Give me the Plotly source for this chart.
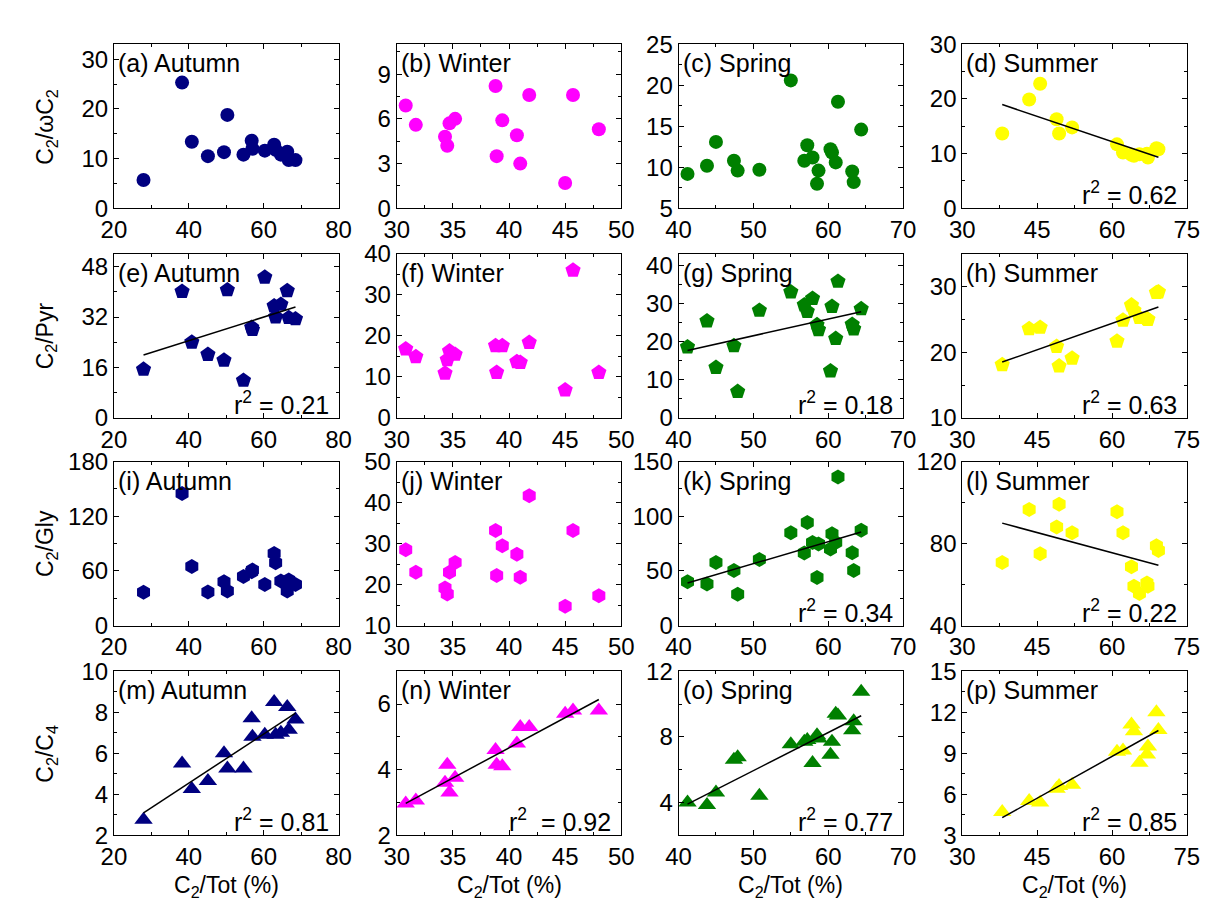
import numpy as np
import plotly.graph_objects as go

W, H = 1208, 913
OFF = 0  # page offset of the figure

# ---------------- data ----------------
seasons = ["Autumn", "Winter", "Spring", "Summer"]
colors = ["#000080", "#FF00FF", "#008000", "#FFFF00"]
row_names = ["C<sub>2</sub>/ωC<sub>2</sub>", "C<sub>2</sub>/Pyr", "C<sub>2</sub>/Gly", "C<sub>2</sub>/C<sub>4</sub>"]
symbols = ["circle", "pentagon", "hexagon", "triangle-up"]
panel_letters = list("abcdefghijklmnop")

autumn_x = [27.9, 38.2, 40.8, 45.1, 49.4, 50.3, 54.6, 56.8, 57.0, 60.3, 62.8, 63.2, 64.6, 66.3, 66.7, 68.5]
autumn_c2wc2 = [5.7, 25.3, 13.4, 10.5, 11.3, 18.8, 10.8, 13.6, 12.0, 11.6, 12.8, 11.8, 10.8, 11.4, 9.7, 9.7]
autumn_c2pyr = [15.4, 40.1, 24.0, 20.1, 18.3, 40.6, 11.9, 28.7, 28.0, 44.6, 35.5, 32.0, 36.0, 40.3, 31.8, 31.4]
autumn_c2gly = [36.5, 145, 65, 37, 48, 38, 54, 59, 61, 45, 79, 69, 49, 38, 50, 45]
autumn_c2c4 = [2.75, 5.5, 4.25, 4.65, 6.0, 5.25, 5.25, 7.7, 6.8, 6.9, 8.5, 6.9, 7.0, 8.25, 7.15, 7.65]

winter_x = [30.8, 31.7, 34.3, 34.5, 34.7, 35.2, 38.8, 38.9, 39.4, 40.7, 41.0, 41.8, 45.0, 45.7, 48.0]
winter_c2wc2 = [6.9, 5.6, 4.8, 4.2, 5.7, 6.0, 8.2, 3.5, 5.9, 4.9, 3.0, 7.6, 1.7, 7.6, 5.3]
winter_c2pyr = [16.8, 14.9, 10.9, 14.2, 16.3, 15.5, 17.6, 11.1, 17.6, 13.7, 13.5, 18.4, 6.8, 36.0, 11.1]
winter_c2gly = [28.5, 23.0, 19.2, 17.7, 23.0, 25.4, 33.2, 22.2, 29.5, 27.4, 21.8, 41.7, 14.7, 33.2, 17.3]
winter_c2c4 = [2.97, 3.06, 3.6, 4.15, 3.3, 3.75, 4.6, 4.15, 4.1, 4.8, 5.3, 5.3, 5.7, 5.8, 5.8]

spring_x = [41.2, 43.8, 45.0, 47.4, 47.9, 50.8, 55.0, 56.8, 57.2, 57.9, 58.5, 58.7, 60.3, 60.5, 61.0, 61.3, 63.2, 63.4, 64.4]
spring_c2wc2 = [9.2, 10.2, 13.1, 10.8, 9.6, 9.7, 20.6, 10.8, 12.7, 11.2, 8.0, 9.6, 12.2, 11.8, 10.6, 18.0, 9.5, 8.2, 14.6]
spring_c2pyr = [18.6, 25.4, 13.2, 18.9, 6.9, 28.2, 33.0, 29.6, 27.9, 31.3, 24.4, 23.1, 12.3, 29.2, 20.8, 35.8, 24.5, 23.3, 28.6]
spring_c2gly = [40, 38, 57.7, 50.3, 28.7, 60.4, 84.9, 66.3, 94.4, 76, 44, 74.6, 70, 84, 76, 136, 66.6, 50.3, 87.3]
spring_c2c4 = [4.0, 3.84, 4.6, 6.6, 6.75, 4.4, 7.55, 7.7, 7.8, 6.4, 8.1, 7.9, 6.9, 7.7, 9.4, 9.3, 8.4, 8.95, 10.75]

summer_x = [38.0, 43.4, 45.6, 48.9, 49.4, 52.0, 61.0, 62.2, 63.9, 64.4, 65.5, 67.0, 67.2, 68.9, 69.3]
summer_c2wc2 = [13.7, 19.9, 22.8, 16.3, 13.7, 14.8, 11.7, 10.2, 9.8, 9.6, 9.9, 10.0, 9.3, 11.0, 10.8]
summer_c2pyr = [18.1, 23.6, 23.8, 20.9, 17.9, 19.1, 21.7, 24.9, 27.2, 26.4, 25.3, 25.1, 25.0, 29.1, 29.2]
summer_c2gly = [70.8, 96.6, 75.0, 88.1, 99.2, 85.3, 95.5, 85.3, 68.7, 59.2, 55.6, 60.8, 59.2, 79.0, 76.6]
summer_c2c4 = [4.7, 5.5, 5.4, 6.4, 6.6, 6.7, 9.1, 9.2, 11.1, 10.6, 8.3, 8.9, 9.5, 12.0, 10.7]

season_x = [autumn_x, winter_x, spring_x, summer_x]
values = [
    [autumn_c2wc2, winter_c2wc2, spring_c2wc2, summer_c2wc2],
    [autumn_c2pyr, winter_c2pyr, spring_c2pyr, summer_c2pyr],
    [autumn_c2gly, winter_c2gly, spring_c2gly, summer_c2gly],
    [autumn_c2c4, winter_c2c4, spring_c2c4, summer_c2c4],
]

# r^2 labels (None = no regression drawn)
r2_labels = [
    [None, None, None, "0.62"],
    ["0.21", None, "0.18", "0.63"],
    [None, None, "0.34", "0.22"],
    ["0.81", "0.92", "0.77", "0.85"],
]

x_ranges = [[20, 80], [30, 50], [40, 70], [30, 75]]
x_dticks = [20, 5, 10, 15]
y_ranges = [
    [[0, 33], [0, 11], [5, 25], [0, 30]],
    [[0, 52], [0, 40], [0, 43], [10, 35]],
    [[0, 180], [10, 50], [0, 150], [40, 120]],
    [[2, 10], [2, 7], [2, 12], [3, 15]],
]
y_dticks = [[10, 3, 5, 10], [16, 10, 10, 10], [60, 10, 50, 40], [2, 2, 4, 3]]

# ---------------- layout geometry (page pixels) ----------------
col_left = [95, 384, 672, 962]
col_w = 229.5
row_top = [23, 239, 453, 669]
row_h = 169

FONT = "Arial, Liberation Sans, sans-serif"
marker_sizes = [14, 16, 15, 16]

fig = go.Figure()
layout = dict(
    width=W, height=H,
    margin=dict(l=0, r=0, t=0, b=0),
    paper_bgcolor="white", plot_bgcolor="white",
    showlegend=False,
    font=dict(family=FONT, color="black"),
)
annotations = []

for r in range(4):
    for c in range(4):
        k = r * 4 + c + 1
        xa = "x" if k == 1 else f"x{k}"
        ya = "y" if k == 1 else f"y{k}"
        xs = season_x[c]
        ys = values[r][c]
        fig.add_trace(go.Scatter(
            x=xs, y=ys, mode="markers", xaxis=xa, yaxis=ya,
            marker=dict(symbol=symbols[r], color=colors[c], size=marker_sizes[r],
                        line=dict(width=0)),
            hoverinfo="x+y",
        ))
        if r2_labels[r][c] is not None:
            slope, icpt = np.polyfit(xs, ys, 1)
            lx = np.array([min(xs), max(xs)])
            fig.add_trace(go.Scatter(
                x=lx, y=slope * lx + icpt, mode="lines", xaxis=xa, yaxis=ya,
                line=dict(color="black", width=1.5), hoverinfo="skip",
            ))
            sep = "  " if (r == 3 and c == 1) else " "
            annotations.append(dict(
                text=f"r<sup>2</sup>{sep}= {r2_labels[r][c]}",
                xref=f"{xa} domain", yref=f"{ya} domain",
                x=0.965, y=0.0, xanchor="right", yanchor="bottom", yshift=-3,
                showarrow=False, font=dict(size=25, family=FONT, color="black"),
            ))
        annotations.append(dict(
            text=f"({panel_letters[k-1]}) {seasons[c]}",
            xref=f"{xa} domain", yref=f"{ya} domain",
            x=0.0, y=1.0, xanchor="left", yanchor="top", xshift=2, yshift=-3,
            showarrow=False, font=dict(size=25, family=FONT, color="black"),
        ))
        x0 = (col_left[c] - OFF) / W
        x1 = (col_left[c] - OFF + col_w) / W
        y1 = 1 - (row_top[r] - OFF) / H
        y0 = 1 - (row_top[r] - OFF + row_h) / H
        axcommon = dict(
            showline=True, linecolor="black", linewidth=1, mirror="ticks",
            ticks="inside", ticklen=5, tickcolor="black", tickwidth=1,
            showgrid=False, zeroline=False,
            tickfont=dict(size=24, family=FONT, color="black"),
        )
        layout["xaxis" if k == 1 else f"xaxis{k}"] = dict(
            axcommon, domain=[x0, x1], range=x_ranges[c], dtick=x_dticks[c], tick0=0,
            anchor=ya,
            minor=dict(ticks="inside", ticklen=3, dtick=x_dticks[c] / 2, tickcolor="black"),
        )
        layout["yaxis" if k == 1 else f"yaxis{k}"] = dict(
            axcommon, domain=[y0, y1], range=y_ranges[r][c], dtick=y_dticks[r][c], tick0=0,
            anchor=xa,
            minor=dict(ticks="inside", ticklen=3, dtick=y_dticks[r][c] / 2, tickcolor="black"),
        )

# y-axis titles (one per row)
for r in range(4):
    annotations.append(dict(
        text=row_names[r], xref="paper", yref="paper",
        x=(26 - OFF) / W, y=1 - (row_top[r] - OFF + row_h / 2) / H,
        xanchor="center", yanchor="middle", textangle=-90,
        showarrow=False, font=dict(size=23, family=FONT, color="black"),
    ))
# x-axis titles (one per column)
for c in range(4):
    annotations.append(dict(
        text="C<sub>2</sub>/Tot (%)", xref="paper", yref="paper",
        x=(col_left[c] - OFF + col_w / 2) / W, y=1 - (891 - OFF) / H,
        xanchor="center", yanchor="middle",
        showarrow=False, font=dict(size=23, family=FONT, color="black"),
    ))

layout["annotations"] = annotations
fig.update_layout(**layout)
fig.write_html("out.html")
